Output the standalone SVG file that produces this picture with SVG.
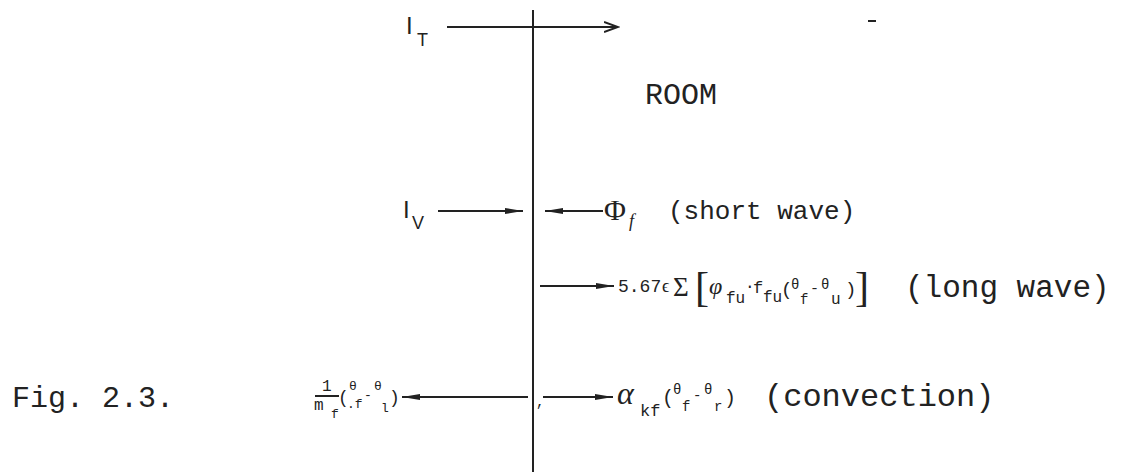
<svg xmlns="http://www.w3.org/2000/svg" width="1121" height="472" viewBox="0 0 1121 472">
<style>
.tw{font-family:"Liberation Mono","Courier New",monospace;fill:#222}
.sm{font-family:"Liberation Mono","Courier New",monospace;fill:#222}
.ss{font-family:"Liberation Sans",Arial,sans-serif;fill:#222}
.gr{font-family:"Liberation Serif","Times New Roman",serif;fill:#222}
.ln{stroke:#222;stroke-width:2;fill:none}
</style>
<defs>
<marker id="open" markerWidth="16" markerHeight="12" refX="14" refY="6" orient="auto" markerUnits="userSpaceOnUse"><path d="M0,1 L14,6 L0,11" fill="none" stroke="#222" stroke-width="2"/></marker>
<marker id="fill" markerWidth="20" markerHeight="8" refX="18" refY="4" orient="auto" markerUnits="userSpaceOnUse"><path d="M0,1 L18,4 L0,7 Z" fill="#222"/></marker>
</defs>
<g id="wall"><line class="ln" x1="533" y1="10" x2="533" y2="472"/></g>
<g id="connectors">
<line class="ln" x1="447" y1="27" x2="618" y2="27" marker-end="url(#open)"/>
<line class="ln" x1="438" y1="211" x2="523" y2="211" marker-end="url(#fill)"/>
<line class="ln" x1="603" y1="211" x2="545" y2="211" marker-end="url(#fill)"/>
<line class="ln" x1="540" y1="286" x2="614" y2="286" marker-end="url(#fill)"/>
<line class="ln" x1="528" y1="397" x2="402" y2="397" marker-end="url(#fill)"/>
<line class="ln" x1="543" y1="397" x2="613" y2="397" marker-end="url(#fill)"/>
</g>
<g id="IT"><text class="ss" x="406" y="34" font-size="24">I</text><text class="ss" x="417" y="46" font-size="18">T</text></g>
<g id="dash"><line class="ln" x1="868" y1="21" x2="876" y2="21"/></g>
<g id="room"><text class="tw" x="645" y="104" font-size="30">ROOM</text></g>
<g id="IV"><text class="ss" x="403" y="218" font-size="24">I</text><text class="ss" x="412" y="229" font-size="18">V</text></g>
<g id="short"><text class="gr" x="604" y="220" font-size="30">Φ</text><text class="gr" x="629" y="227" font-size="18" font-style="italic">f</text><text class="tw" x="668" y="219" font-size="26">(short wave)</text></g>
<g id="long">
<text class="sm" x="618" y="292" font-size="18">5.67</text><text class="gr" x="662" y="292" font-size="18">ϵ</text>
<text class="gr" x="673" y="296" font-size="27">Σ</text>
<text class="gr" x="695" y="301" font-size="42">[</text>
<text class="gr" x="709" y="294" font-size="24" font-style="italic">φ</text>
<text class="sm" x="726" y="303" font-size="16">fu</text>
<text class="sm" x="745" y="291" font-size="16">·</text>
<text class="sm" x="753" y="293" font-size="17">f</text>
<text class="sm" x="763" y="302" font-size="16">fu</text>
<text class="sm" x="781" y="295" font-size="19">(</text>
<text class="sm" x="791" y="289" font-size="14">θ</text>
<text class="sm" x="800" y="304" font-size="14">f</text>
<text class="sm" x="810" y="293" font-size="15">-</text>
<text class="sm" x="821" y="289" font-size="14">θ</text>
<text class="sm" x="831" y="304" font-size="16">u</text>
<text class="sm" x="845" y="295" font-size="19">)</text>
<text class="gr" x="855" y="301" font-size="42">]</text>
<text class="tw" x="905" y="297" font-size="31">(long wave)</text>
</g>
<g id="fig"><text class="tw" x="12" y="407" font-size="30">Fig. 2.3.</text></g>
<g id="left">
<text class="sm" x="322" y="391" font-size="16">1</text>
<line class="ln" x1="315" y1="396" x2="339" y2="396" stroke-width="1.5"/>
<text class="sm" x="314" y="410" font-size="16">m</text>
<text class="sm" x="331" y="418" font-size="13">f</text>
<text class="sm" x="338" y="403" font-size="18">(</text>
<text class="sm" x="349" y="390" font-size="13">θ</text>
<text class="sm" x="347" y="408" font-size="13">.f</text>
<text class="sm" x="364" y="399" font-size="13">-</text>
<text class="sm" x="374" y="390" font-size="13">θ</text>
<text class="sm" x="381" y="412" font-size="13">l</text>
<text class="sm" x="389" y="403" font-size="18">)</text>
</g>
<g id="conv">
<text class="sm" x="536" y="406" font-size="14">,</text>
<text class="gr" x="617" y="404" font-size="32" font-style="italic">α</text>
<text class="sm" x="640" y="416" font-size="17">kf</text>
<text class="sm" x="662" y="404" font-size="20">(</text>
<text class="sm" x="673" y="394" font-size="14">θ</text>
<text class="sm" x="682" y="411" font-size="14">f</text>
<text class="sm" x="693" y="400" font-size="14">-</text>
<text class="sm" x="704" y="394" font-size="14">θ</text>
<text class="sm" x="714" y="411" font-size="14">r</text>
<text class="sm" x="724" y="404" font-size="20">)</text>
<text class="tw" x="764" y="406" font-size="32">(convection)</text>
</g>
</svg>
